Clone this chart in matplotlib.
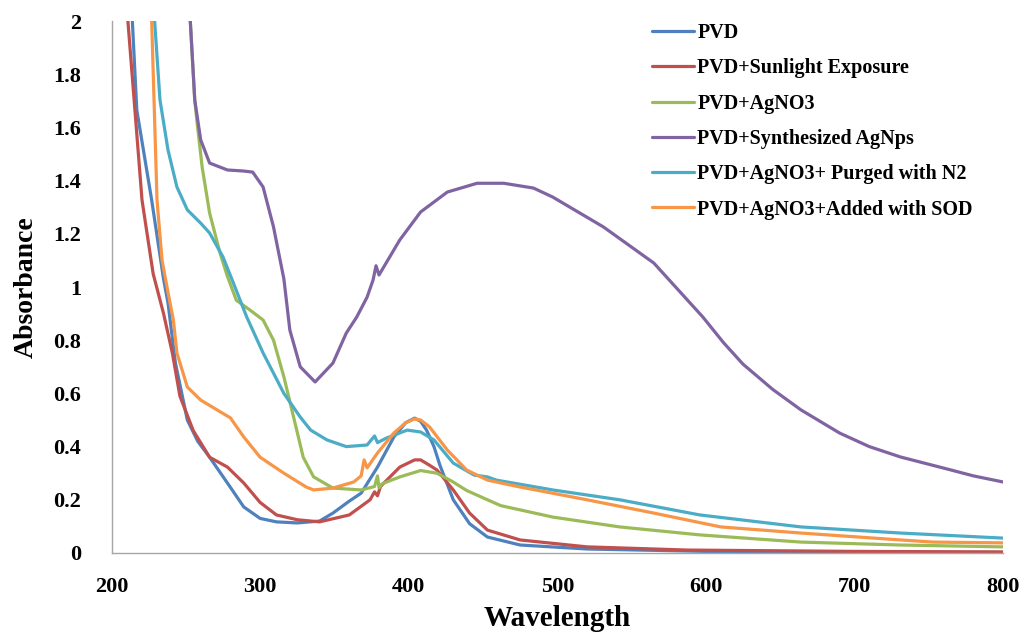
import matplotlib
matplotlib.use("Agg")
import matplotlib.pyplot as plt

# ============================================
# DATA
# ============================================

pvd_x = [214, 217, 227, 235, 238, 243, 251, 258, 266, 278, 289, 300, 311, 325, 340,
         349, 360, 368, 379, 390, 398, 404, 408, 412, 417, 421, 430, 441, 453, 475,
         520, 600, 700, 800]
pvd_y = [2.0, 1.665, 1.327, 1.03, 0.94, 0.714, 0.5, 0.42, 0.36, 0.263, 0.173, 0.13,
         0.117, 0.113, 0.12, 0.15, 0.195, 0.225, 0.323, 0.436, 0.49, 0.507, 0.495,
         0.462, 0.4, 0.33, 0.2, 0.11, 0.06, 0.03, 0.015, 0.006, 0.003, 0.002]

sun_x = [211, 220.5, 228, 235, 241, 246, 255, 266, 278, 289, 300, 311, 325, 340, 360,
         374, 377, 379, 381, 394, 404, 408, 414, 419, 430, 441, 453, 475, 520, 588,
         700, 800]
sun_y = [2.0, 1.327, 1.05, 0.9, 0.75, 0.59, 0.46, 0.36, 0.323, 0.263, 0.19, 0.143,
         0.125, 0.117, 0.143, 0.2, 0.23, 0.215, 0.25, 0.323, 0.35, 0.35, 0.33, 0.312,
         0.237, 0.15, 0.086, 0.049, 0.023, 0.011, 0.006, 0.004]

ag_x = [253, 256, 257.6, 261, 266, 273, 278, 284, 293, 302, 309, 316, 323, 329, 336,
        349, 368, 377, 379, 380, 382, 394, 408, 419, 429, 439, 453, 462, 497, 542,
        596, 664, 731, 800]
ag_y = [2.0, 1.703, 1.617, 1.45, 1.278, 1.128, 1.04, 0.95, 0.914, 0.876, 0.8, 0.662,
        0.5, 0.36, 0.286, 0.244, 0.237, 0.25, 0.29, 0.245, 0.26, 0.286, 0.31, 0.3,
        0.27, 0.235, 0.2, 0.178, 0.135, 0.098, 0.068, 0.041, 0.03, 0.023]

nps_x = [253, 256, 260, 266, 278, 289, 295, 302, 309, 316, 320, 327, 337, 349, 358,
         365, 372, 376, 378, 380, 394, 408, 426, 446, 464, 484, 497, 531, 565, 598,
         612, 625, 645, 664, 690, 710, 731, 765, 780, 800]
nps_y = [2.0, 1.703, 1.553, 1.466, 1.44, 1.436, 1.432, 1.376, 1.226, 1.03, 0.838,
         0.7, 0.643, 0.714, 0.827, 0.887, 0.962, 1.026, 1.08, 1.045, 1.177, 1.282,
         1.357, 1.39, 1.39, 1.372, 1.338, 1.226, 1.09, 0.887, 0.79, 0.71, 0.615,
         0.538, 0.451, 0.4, 0.361, 0.312, 0.29, 0.267]

n2_x = [229, 232.6, 238, 244, 251, 260, 266, 275, 282, 291, 302, 316, 327, 334, 345,
        358, 372, 377, 379, 385, 399, 408, 417, 430, 444, 453, 459, 497, 542, 596,
        664, 731, 800]
n2_y = [2.0, 1.703, 1.515, 1.376, 1.29, 1.24, 1.203, 1.113, 1.015, 0.887, 0.752, 0.6,
        0.511, 0.462, 0.425, 0.4, 0.406, 0.44, 0.415, 0.432, 0.462, 0.455, 0.425,
        0.338, 0.293, 0.286, 0.274, 0.237, 0.2, 0.143, 0.098, 0.075, 0.056]

sod_x = [227, 230.6, 234, 238, 241.6, 244, 251, 260, 271, 280, 289, 300, 316, 331,
         336, 349, 363, 368, 370, 372, 379, 390, 398, 404, 408, 414, 426, 439, 453,
         475, 520, 565, 610, 664, 731, 753, 800]
sod_y = [2.0, 1.327, 1.1, 0.98, 0.876, 0.752, 0.624, 0.575, 0.538, 0.508, 0.436,
         0.36, 0.3, 0.248, 0.237, 0.244, 0.267, 0.29, 0.35, 0.32, 0.376, 0.451, 0.49,
         0.504, 0.5, 0.474, 0.387, 0.312, 0.274, 0.248, 0.2, 0.15, 0.098, 0.075,
         0.049, 0.041, 0.038]

labels = ["PVD", "PVD+Sunlight Exposure", "PVD+AgNO3", "PVD+Synthesized AgNps",
          "PVD+AgNO3+ Purged with N2", "PVD+AgNO3+Added with SOD"]
colors = ["#4F81BD", "#C0504D", "#9BBB59", "#8064A2", "#4BACC6", "#F79646"]

x_ticks = [200, 300, 400, 500, 600, 700, 800]
y_ticks = [0, 0.2, 0.4, 0.6, 0.8, 1, 1.2, 1.4, 1.6, 1.8, 2]

# ============================================
# CHART
# ============================================

plt.rcParams["font.family"] = ["Liberation Serif", "DejaVu Serif"]
plt.rcParams["font.weight"] = "bold"

fig = plt.figure(figsize=(10.30, 6.41), dpi=100)
ax = fig.add_axes([0.1083, 0.1373, 0.8655, 0.8299])

series = [(pvd_x, pvd_y), (sun_x, sun_y), (ag_x, ag_y),
          (nps_x, nps_y), (n2_x, n2_y), (sod_x, sod_y)]
for (xs, ys), lab, col in zip(series, labels, colors):
    ax.plot(xs, ys, color=col, linewidth=2.3, label=lab,
            solid_capstyle="round", solid_joinstyle="round")

ax.set_xlim(200, 800)
ax.set_ylim(0, 2)
ax.set_xticks(x_ticks)
ax.set_yticks(y_ticks)
ax.set_yticklabels([f"{v:g}" for v in y_ticks])
ax.tick_params(length=0, labelsize=16)
ax.tick_params(axis="x", pad=17)
ax.tick_params(axis="y", pad=22)

for side in ["top", "right"]:
    ax.spines[side].set_visible(False)
for side in ["left", "bottom"]:
    ax.spines[side].set_color("#A6A6A6")
    ax.spines[side].set_linewidth(1.0)

ax.set_xlabel("Wavelength", fontsize=21, fontweight="bold", labelpad=6)
ax.set_ylabel("Absorbance", fontsize=20, fontweight="bold", labelpad=10)

leg = ax.legend(loc="upper left", bbox_to_anchor=(652 / 1030, 1 - 23 / 641),
                bbox_transform=fig.transFigure, frameon=False, fontsize=14.5,
                handlelength=2.1, handletextpad=0.15, labelspacing=0.76,
                borderpad=0, borderaxespad=0)
for t in leg.get_texts():
    t.set_fontweight("bold")

plt.savefig("out.png", dpi=100)
